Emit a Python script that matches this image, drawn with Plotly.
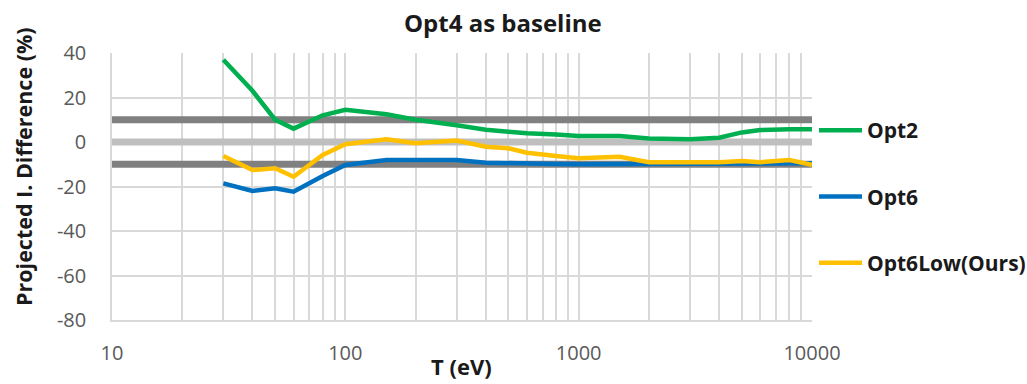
import plotly.graph_objects as go

# Temperature grid (eV) and projected intensity difference (%) relative to Opt4
T_EV = [30, 40, 50, 60, 80, 100, 150, 200, 300, 400, 500, 600, 800,
        1000, 1500, 2000, 3000, 4000, 5000, 6000, 8000, 10000]
OPT2 = [37, 23, 10, 6, 12, 14.5, 12.5, 10, 7.5, 5.5, 4.6, 3.9, 3.4,
        2.7, 2.7, 1.6, 1.2, 1.9, 4.3, 5.4, 5.7, 5.7]
OPT6 = [-18.6, -22, -20.8, -22.3, -15.3, -10.3, -8.1, -8.1, -8.1, -9.3, -9.6, -9.8, -9.9,
        -10, -10, -10, -10, -10, -10, -10, -9.8, -9.6]
OPT6LOW = [-6.3, -12.6, -11.8, -15.6, -5.8, -1.0, 1.2, -0.6, 0.7, -2.1, -2.8, -4.8, -6.3,
           -7.3, -6.6, -9.1, -9.1, -9.1, -8.5, -9.1, -8.1, -10.2]

SERIES_NAMES = ["Opt2", "Opt6", "Opt6Low(Ours)"]
SERIES_COLORS = ["#00b050", "#0070c0", "#ffc000"]

# Reference bands at +10 %, 0 % and -10 %
REF_LEVELS = [10, 0, -10]
REF_COLORS = ["#808080", "#bfbfbf", "#808080"]
REF_SPAN = [10, 10000]

X_TICKS = [10, 100, 1000, 10000]
X_MINOR = [m * d for d in (10, 100, 1000) for m in range(2, 10)]
Y_TICKS = [40, 20, 0, -20, -40, -60, -80]
Y_TICK_TEXT = ["40", "20", "0", "-20", "-40", "-60", "-80"]

FONT = "Open Sans"
TICK_COLOR = "#595959"
TEXT_COLOR = "#1a1a1a"
GRID = "#d9d9d9"

W, H = 1027, 384
ML, MR, MT, MB = 112, 215, 53, 64
PLOT_W = W - ML - MR
PLOT_H = H - MT - MB


def px_x(x):
    """Pixel column -> paper x."""
    return (x - ML) / PLOT_W


def px_y(y):
    """Pixel row -> paper y."""
    return (H - MB - y) / PLOT_H


fig = go.Figure()

for level, color in zip(REF_LEVELS, REF_COLORS):
    fig.add_trace(go.Scatter(
        x=REF_SPAN, y=[level, level], mode="lines",
        line=dict(color=color, width=7), showlegend=False, hoverinfo="skip",
    ))

for name, values, color in zip(SERIES_NAMES, [OPT2, OPT6, OPT6LOW], SERIES_COLORS):
    fig.add_trace(go.Scatter(
        x=T_EV, y=values, mode="lines", name=name, legendgroup=name,
        line=dict(color=color, width=4.5),
    ))

fig.update_layout(
    width=W, height=H,
    margin=dict(l=ML, r=MR, t=MT, b=MB, autoexpand=False),
    paper_bgcolor="white", plot_bgcolor="white",
    font=dict(family=FONT, color=TICK_COLOR),
    showlegend=True,
    legend=dict(
        x=px_x(814), xanchor="left", y=px_y(110), yanchor="top",
        font=dict(family=FONT, size=21, color=TEXT_COLOR, weight="bold"),
        tracegroupgap=36, itemwidth=43, bgcolor="rgba(0,0,0,0)",
    ),
    annotations=[
        dict(text="<b>Opt4 as baseline</b>", x=px_x(503), y=px_y(23),
             xref="paper", yref="paper", xanchor="center", yanchor="middle",
             showarrow=False, font=dict(family=FONT, size=24, color=TEXT_COLOR)),
        dict(text="<b>T (eV)</b>", x=px_x(461), y=px_y(366),
             xref="paper", yref="paper", xanchor="center", yanchor="middle",
             showarrow=False, font=dict(family=FONT, size=22, color=TEXT_COLOR)),
        dict(text="<b>Projected I. Difference (%)</b>", textangle=-90,
             x=px_x(23), y=px_y(167), xref="paper", yref="paper",
             xanchor="center", yanchor="middle",
             showarrow=False, font=dict(family=FONT, size=21.5, color=TEXT_COLOR)),
    ],
)

fig.update_xaxes(
    type="log", range=[1, 4],
    tickmode="array", tickvals=X_TICKS, ticktext=[str(v) for v in X_TICKS],
    showgrid=True, gridcolor=GRID, gridwidth=1.5,
    minor=dict(tickmode="array", tickvals=X_MINOR, showgrid=True,
               gridcolor=GRID, gridwidth=1.5, ticks=""),
    showline=True, linecolor=GRID, linewidth=1.5,
    ticks="", ticklabelstandoff=14,
    tickfont=dict(family=FONT, size=20, color=TICK_COLOR),
    zeroline=False,
)
fig.update_yaxes(
    range=[-80, 40], tickmode="array", tickvals=Y_TICKS, ticktext=Y_TICK_TEXT,
    showgrid=True, gridcolor=GRID, gridwidth=1.5,
    showline=True, linecolor=GRID, linewidth=1.5,
    ticks="", ticklabelstandoff=20,
    tickfont=dict(family=FONT, size=20, color=TICK_COLOR),
    zeroline=False,
)

fig.write_html("out.html")
